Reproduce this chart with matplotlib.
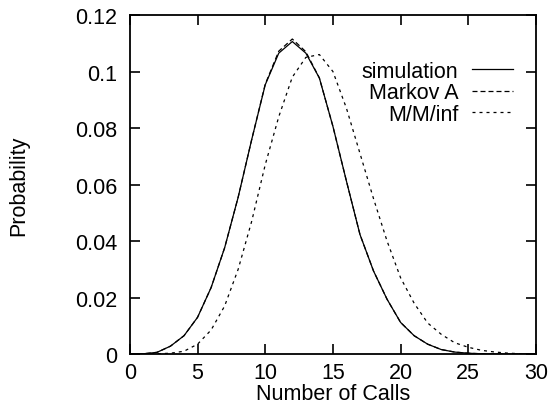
import matplotlib
matplotlib.use('Agg')
import matplotlib.pyplot as plt

plt.rcParams['font.family'] = ['Liberation Sans', 'DejaVu Sans']

# number of calls
calls = list(range(0, 31))

# probabilities
simulation = [0.0, 0.0001, 0.0006, 0.0028, 0.0065, 0.013, 0.0235, 0.0376, 0.0555,
              0.0759, 0.0953, 0.1065, 0.1106, 0.1065, 0.0977, 0.0806, 0.0612, 0.0423,
              0.0294, 0.0194, 0.0112, 0.0065, 0.0035, 0.0016, 0.0007, 0.0003, 0.0001,
              0.0, 0.0, 0.0, 0.0]
markov_a = [0.0, 0.0001, 0.0006, 0.0028, 0.0065, 0.013, 0.0235, 0.0376, 0.0555,
            0.0759, 0.0955, 0.1072, 0.1115, 0.1070, 0.0977, 0.0806, 0.0612, 0.0423,
            0.0294, 0.0194, 0.0112, 0.0065, 0.0035, 0.0016, 0.0007, 0.0003, 0.0001,
            0.0, 0.0, 0.0, 0.0]
mm_inf = [0.0, 0.0, 0.0001, 0.0003, 0.001, 0.0035, 0.0085, 0.017, 0.030, 0.047,
          0.067, 0.084, 0.098, 0.105, 0.106, 0.100, 0.087, 0.071, 0.055, 0.040,
          0.027, 0.018, 0.011, 0.007, 0.004, 0.0024, 0.0013, 0.0007, 0.0003, 0.0001, 0.0]

fs = 15.5

fig = plt.figure(figsize=(5.48, 4.10), dpi=100)
ax = fig.add_axes([0.237, 0.134, 0.741, 0.827])

ax.plot(calls, simulation, color='black', linewidth=0.9, label='simulation')
ax.plot(calls, markov_a, color='black', linewidth=0.9, dashes=(4, 2.4), label='Markov A')
ax.plot(calls, mm_inf, color='black', linewidth=0.9, dashes=(2.4, 3.2), label='M/M/inf')

ax.set_xlim(0, 30)
ax.set_ylim(0, 0.12)
ax.set_xticks(range(0, 31, 5))
ax.set_yticks([0, 0.02, 0.04, 0.06, 0.08, 0.1, 0.12])
ax.set_yticklabels(['0', '0.02', '0.04', '0.06', '0.08', '0.1', '0.12'])
ax.tick_params(direction='in', length=7, width=1.2, top=True, right=True,
               labelsize=fs, color='black')
ax.tick_params(axis='x', pad=6)
ax.tick_params(axis='y', pad=9)
for s in ax.spines.values():
    s.set_linewidth(1.3)

ax.set_xlabel('Number of Calls', fontsize=fs, labelpad=0)
ax.set_ylabel('Probability', fontsize=fs, labelpad=33)

ax.legend(loc='upper right', frameon=False, markerfirst=False, fontsize=fs,
          handlelength=1.9, handletextpad=0.65, labelspacing=0.02,
          bbox_to_anchor=(0.965, 0.89), borderaxespad=0)

fig.savefig('out.png', dpi=100)
